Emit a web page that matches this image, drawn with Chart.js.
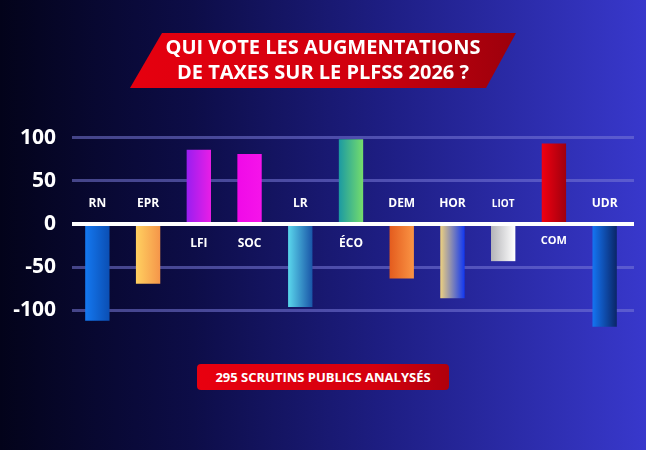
<!DOCTYPE html>
<html lang="fr">
<head>
<meta charset="utf-8">
<title>Qui vote les augmentations de taxes sur le PLFSS 2026 ?</title>
<script src="https://cdn.jsdelivr.net/npm/chart.js@4.4.1/dist/chart.umd.min.js"></script>
<style>
    html, body {
        margin: 0;
        padding: 0;
    }
    body {
        width: 646px;
        height: 450px;
        overflow: hidden;
        position: relative;
        font-family: 'Open Sans', 'Noto Sans', sans-serif;
        background: linear-gradient(90deg, #03031a 0%, #0d0d48 30%, #1e1e84 60%, #3838cc 100%);
    }
    #wrap {
        position: absolute;
        left: 0;
        top: 0;
        width: 646px;
        height: 450px;
    }
    .banner {
        position: absolute;
        left: 130px;
        top: 33px;
        width: 386px;
        height: 55px;
        background: linear-gradient(90deg, #e6000f 0%, #d0000e 60%, #9c000c 100%);
        clip-path: polygon(32px 0, 386px 0, 356px 55px, 0 55px);
    }
    .title {
        position: absolute;
        left: 130px;
        top: 34px;
        width: 386px;
        text-align: center;
        color: #fff;
        font-weight: 700;
        font-size: 20px;
        line-height: 25px;
    }
    .badge {
        position: absolute;
        left: 197px;
        top: 364px;
        width: 252px;
        height: 26px;
        border-radius: 4px;
        background: linear-gradient(90deg, #e8000f 0%, #d4000e 70%, #b0000c 100%);
        color: #fff;
        font-weight: 700;
        font-size: 13px;
        line-height: 26px;
        text-align: center;
    }
</style>
</head>
<body>
<div id="wrap"><canvas id="votesChart" width="646" height="450"></canvas></div>
<div class="banner"></div>
<div class="title">QUI VOTE LES AUGMENTATIONS<br>DE TAXES SUR LE PLFSS 2026 ?</div>
<div class="badge">295 SCRUTINS PUBLICS ANALYSÉS</div>

<script>
const groups = ['RN', 'EPR', 'LFI', 'SOC', 'LR', 'ÉCO', 'DEM', 'HOR', 'LIOT', 'COM', 'UDR'];
const scores = [-112, -69, 86, 81, -96, 98, -63, -86, -43, 93, -119];
const yTicks = [-100, -50, 0, 50, 100];

// Dégradés gauche -> droite de chaque barre
const barColors = {
    RN:   ['#1478f0', '#0b4fb4'],
    EPR:  ['#ffd060', '#f5964a'],
    LFI:  ['#9a1ef0', '#e81ee6'],
    SOC:  ['#f00ae8', '#f514ea'],
    LR:   ['#5ad6ec', '#1a56a8'],
    'ÉCO': ['#1c9aa2', '#74dc6c'],
    DEM:  ['#e45c1e', '#fa9444'],
    HOR:  ['#ecd080', '#1238f0'],
    LIOT: ['#b4b4b8', '#ffffff'],
    COM:  ['#f00010', '#a0000e'],
    UDR:  ['#1474f2', '#0a2668']
};

const labelStyle = {
    LIOT: { size: 10, dy: 0 },
    COM:  { size: 11, dy: -3 }
};

function barGradient(context) {
    const chart = context.chart;
    const xScale = chart.scales.x;
    if (!chart.chartArea || !xScale) return '#888';
    const cx = xScale.getPixelForValue(context.dataIndex);
    const pair = barColors[groups[context.dataIndex]];
    const g = chart.ctx.createLinearGradient(cx - 12, 0, cx + 12, 0);
    g.addColorStop(0, pair[0]);
    g.addColorStop(1, pair[1]);
    return g;
}

// les barres s'arrêtent un peu avant la fin des lignes de grille
const narrowX = {
    id: 'narrowX',
    afterLayout(chart) {
        const x = chart.scales.x;
        x.right -= 4;
        x.width -= 4;
        x.configure();
    }
};

// Noms des groupes : sous la ligne zéro pour les barres positives, au-dessus sinon
const groupLabels = {
    id: 'groupLabels',
    afterDatasetsDraw(chart) {
        const ctx = chart.ctx;
        const meta = chart.getDatasetMeta(0);
        const zeroY = chart.scales.y.getPixelForValue(0);
        ctx.save();
        ctx.fillStyle = '#ffffff';
        ctx.textAlign = 'center';
        ctx.textBaseline = 'middle';
        meta.data.forEach((bar, i) => {
            const name = groups[i];
            const st = labelStyle[name] || { size: 12, dy: 0 };
            ctx.font = 'bold ' + st.size + 'px "Open Sans", sans-serif';
            const y = scores[i] >= 0 ? zeroY + 20 + st.dy : zeroY - 20;
            ctx.fillText(name, bar.x, y);
        });
        ctx.restore();
    }
};

new Chart(document.getElementById('votesChart'), {
    type: 'bar',
    data: {
        labels: groups,
        datasets: [{
            data: scores,
            backgroundColor: barGradient,
            borderWidth: 0,
            barPercentage: 0.48,
            categoryPercentage: 1
        }]
    },
    options: {
        responsive: false,
        animation: false,
        layout: {
            padding: { top: 103, bottom: 105, left: 0, right: 12 }
        },
        plugins: {
            legend: { display: false },
            tooltip: { enabled: false }
        },
        scales: {
            x: {
                display: false
            },
            y: {
                min: -140,
                max: 140,
                afterFit(scale) { scale.width = 72; },
                afterBuildTicks(scale) { scale.ticks = yTicks.map(v => ({ value: v })); },
                border: { display: false },
                grid: {
                    drawTicks: false,
                    color: c => c.tick && c.tick.value === 0 ? '#ffffff' : 'rgba(120, 120, 215, 0.55)',
                    lineWidth: c => c.tick && c.tick.value === 0 ? 4 : 3
                },
                ticks: {
                    color: '#ffffff',
                    padding: 16,
                    font: { family: '"Open Sans", sans-serif', size: 21, weight: 'bold' }
                }
            }
        }
    },
    plugins: [narrowX, groupLabels]
});
</script>
</body>
</html>
